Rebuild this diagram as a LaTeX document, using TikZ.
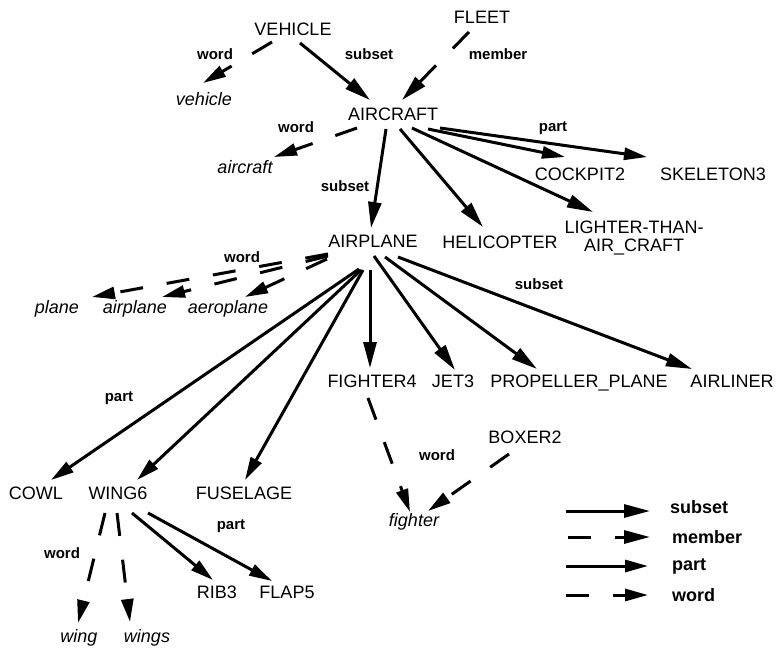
\documentclass[tikz,border=0pt]{standalone}
\usepackage{fontspec}
\setmainfont{Liberation Sans}
\usetikzlibrary{arrows.meta}
\tikzset{
 cnode/.style={anchor=base, inner sep=0pt, font=\fontsize{18}{18}\selectfont},
 wnode/.style={anchor=base, inner sep=0pt, font=\fontsize{18}{18}\selectfont\itshape},
 lab/.style={anchor=base, inner sep=0pt, font=\fontsize{15}{15}\selectfont\bfseries},
 leglab/.style={anchor=base west, inner sep=0pt, font=\fontsize{18}{18}\selectfont\bfseries},
 rel/.style={line width=3pt},
 subsetarr/.style={rel, -{Triangle[length=26pt,width=13pt]}},
 memberarr/.style={subsetarr, dash pattern=on 23pt off 24pt},
 partarr/.style={rel, -{Triangle[length=23pt,width=12pt]}},
 wordarr/.style={partarr, dash pattern=on 23pt off 24pt},
}
\begin{document}
\begin{tikzpicture}[x=1pt,y=-1pt]
\fill[white] (0,0) rectangle (779,649);
\useasboundingbox (0,0) rectangle (779,649);
% nodes
\node[cnode] (VEH) at (293,35) {VEHICLE};
\node[cnode] (FLEET) at (482,23) {FLEET};
\node[wnode] (vehw) at (204,105) {vehicle};
\node[cnode] (AIRC) at (393,120) {AIRCRAFT};
\node[wnode] (aircw) at (245,173) {aircraft};
\node[cnode] (COCK) at (580,180) {COCKPIT2};
\node[cnode] (SKEL) at (713,180) {SKELETON3};
\node[cnode] (HELI) at (500,248) {HELICOPTER};
\node[cnode, anchor=center, align=center] (LTA) at (634,238) {LIGHTER-THAN-\\AIR\_CRAFT};
\node[cnode] (AIRP) at (373,247) {AIRPLANE};
\node[wnode] (planew) at (57,313) {plane};
\node[wnode] (airplanew) at (135,313) {airplane};
\node[wnode] (aeroplanew) at (228,313) {aeroplane};
\node[cnode] (FIG) at (372,387) {FIGHTER4};
\node[cnode] (JET) at (453,387) {JET3};
\node[cnode] (PROP) at (579,387) {PROPELLER\_PLANE};
\node[cnode] (AIRL) at (732,387) {AIRLINER};
\node[cnode] (BOX) at (525,443) {BOXER2};
\node[wnode] (fighterw) at (414,526) {fighter};
\node[cnode] (COWL) at (36,499) {COWL};
\node[cnode] (WING) at (118,499) {WING6};
\node[cnode] (FUS) at (244,499) {FUSELAGE};
\node[cnode] (RIB) at (217,598) {RIB3};
\node[cnode] (FLAP) at (287,598) {FLAP5};
\node[wnode] (wingw) at (79,642) {wing};
\node[wnode] (wingsw) at (147,642) {wings};
% labels
\node[lab] (l1) at (215,59) {word};
\node[lab] (l2) at (369,59) {subset};
\node[lab] (l3) at (498,59) {member};
\node[lab] (l4) at (296,132) {word};
\node[lab] (l5) at (345,191) {subset};
\node[lab] (l6) at (553,131) {part};
\node[lab] (l7) at (242,262) {word};
\node[lab] (l8) at (539,289) {subset};
\node[lab] (l9) at (119,401) {part};
\node[lab] (l10) at (437,460) {word};
\node[lab] (l11) at (231,529) {part};
\node[lab] (l12) at (62,558) {word};
% edges
\draw[wordarr] ([shift={(-21,7)}]VEH.base) -- ([shift={(-1,-22)}]vehw.base);
\draw[subsetarr] ([shift={(7,8)}]VEH.base) -- ([shift={(-23,-20)}]AIRC.base);
\draw[memberarr] ([shift={(-13,9)}]FLEET.base) -- ([shift={(9,-20)}]AIRC.base);
\draw[wordarr] ([shift={(-36,8)}]AIRC.base) -- ([shift={(29,-16)}]aircw.base);
\draw[subsetarr] ([shift={(-7,9)}]AIRC.base) -- ([shift={(-2,-19)}]AIRP.base);
\draw[subsetarr] ([shift={(7,9)}]AIRC.base) -- ([shift={(-17,-21)}]HELI.base);
\draw[subsetarr] ([shift={(19,8)}]AIRC.base) -- ([shift={(-41,-26)}]LTA.center);
\draw[partarr] ([shift={(35,9)}]AIRC.base) -- ([shift={(-15,-23)}]COCK.base);
\draw[partarr] ([shift={(47,8)}]AIRC.base) -- ([shift={(-66,-23)}]SKEL.base);
\draw[wordarr] ([shift={(-45,7)}]AIRP.base) -- ([shift={(35,-16)}]planew.base);
\draw[wordarr] ([shift={(-45,9)}]AIRP.base) -- ([shift={(27,-16)}]airplanew.base);
\draw[wordarr] ([shift={(-46,12)}]AIRP.base) -- ([shift={(17,-16)}]aeroplanew.base);
\draw[partarr] ([shift={(-14,22)}]AIRP.base) -- ([shift={(15,-19)}]COWL.base);
\draw[partarr] ([shift={(-12,23)}]AIRP.base) -- ([shift={(19,-19)}]WING.base);
\draw[partarr] ([shift={(-10,23)}]AIRP.base) -- ([shift={(1,-19)}]FUS.base);
\draw[subsetarr] ([shift={(-3,23)}]AIRP.base) -- ([shift={(-2,-19)}]FIG.base);
\draw[subsetarr] ([shift={(1,9)}]AIRP.base) -- ([shift={(2,-17)}]JET.base);
\draw[subsetarr] ([shift={(12,10)}]AIRP.base) -- ([shift={(-42,-18)}]PROP.base);
\draw[subsetarr] ([shift={(25,10)}]AIRP.base) -- ([shift={(-40,-18)}]AIRL.base);
\draw[wordarr] ([shift={(-4,11)}]FIG.base) -- ([shift={(-4,-14)}]fighterw.base);
\draw[wordarr] ([shift={(-16,11)}]BOX.base) -- ([shift={(14,-15)}]fighterw.base);
\draw[wordarr] ([shift={(-13,14)}]WING.base) -- ([shift={(-1,-19)}]wingw.base);
\draw[wordarr] ([shift={(-1,14)}]WING.base) -- ([shift={(-17,-20)}]wingsw.base);
\draw[partarr] ([shift={(14,14)}]WING.base) -- ([shift={(-4,-18)}]RIB.base);
\draw[partarr] ([shift={(30,14)}]WING.base) -- ([shift={(-15,-17)}]FLAP.base);
% legend
\coordinate (ls1) at (566,511); \coordinate (le1) at (650,511);
\coordinate (ls2) at (568,537); \coordinate (le2) at (650,537);
\coordinate (ls3) at (566,566); \coordinate (le3) at (648,566);
\coordinate (ls4) at (566,595); \coordinate (le4) at (648,595);
\draw[subsetarr] (ls1) -- (le1);
\draw[memberarr] (ls2) -- (le2);
\draw[partarr] (ls3) -- (le3);
\draw[wordarr] (ls4) -- (le4);
\node[leglab] (g1) at (670,513) {subset};
\node[leglab] (g2) at (672,543) {member};
\node[leglab] (g3) at (672,570) {part};
\node[leglab] (g4) at (672,601) {word};
\end{tikzpicture}
\end{document}
